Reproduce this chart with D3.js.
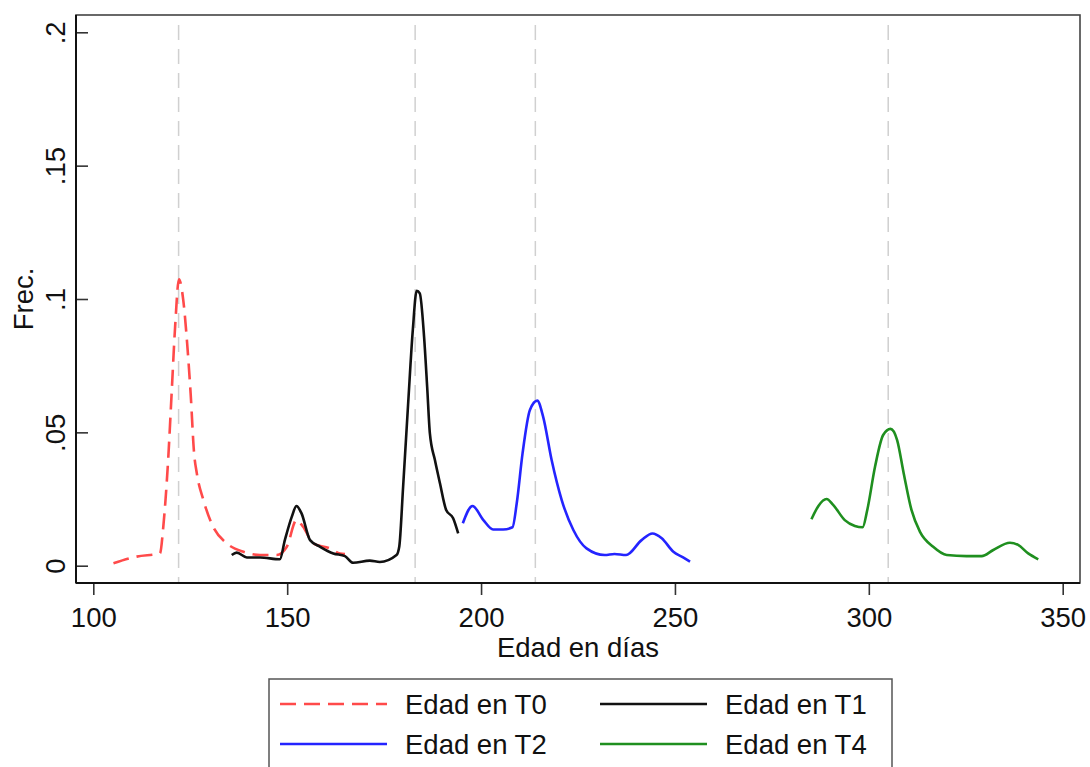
<!DOCTYPE html>
<meta charset="utf-8">
<style>
    body { margin: 0; background: #fff; }
    text { font-family: "Liberation Sans", Arial, sans-serif; fill: #111; }
    .curve { fill: none; stroke-width: 2.6px; stroke-linejoin: round; }
</style>
<body>
<script src="https://d3js.org/d3.v7.min.js"></script>
<script>
    // values: [day, frequency]
    var t0 = [[105.2,0.0009],[111.2,0.0034],[117.2,0.0046],[118.05,0.0146],[119.3,0.0396],[120.2,0.0646],
        [121.1,0.0896],[122.1,0.1074],[123.2,0.0996],[124.2,0.0834],[125.1,0.0646],[126.0,0.0421],
        [126.7,0.0346],[128.4,0.0246],[130.9,0.0146],[134.4,0.0084],[138.7,0.0052],[143.0,0.0040],
        [147.3,0.0040],[149.9,0.0071],[152.4,0.0171],[154.1,0.0146],[156.7,0.0084],[161.0,0.0065],
        [163.6,0.0046],[164.9,0.0044]];
    var t1 = [[135.7,0.0040],[137.0,0.0049],[139.6,0.0031],[143.0,0.0031],[148.1,0.0024],[149.4,0.0096],
        [151.2,0.0184],[152.4,0.0224],[153.7,0.0196],[155.9,0.0096],[158.5,0.0071],[161.9,0.0046],
        [164.9,0.0036],[167.0,0.0011],[171.3,0.0019],[173.9,0.0014],[178.2,0.0040],[178.9,0.0071],
        [179.9,0.0296],[181.2,0.0609],[182.4,0.0884],[183.4,0.1031],[184.2,0.1021],[185.3,0.0859],
        [186.1,0.0671],[186.8,0.0496],[188.1,0.0396],[189.4,0.0309],[191.0,0.0209],[192.8,0.0178],
        [194.1,0.0121]];
    var t2 = [[195.3,0.0159],[197.8,0.0224],[200.6,0.0171],[203.1,0.0136],[205.7,0.0136],[208.1,0.0144],
        [209.2,0.0234],[210.7,0.0421],[212.6,0.0584],[214.5,0.0619],[216.0,0.0559],[218.2,0.0396],
        [220.8,0.0246],[223.8,0.0134],[227.2,0.0065],[231.9,0.0040],[234.4,0.0044],[237.4,0.0040],
        [241.4,0.0096],[244.2,0.0121],[246.6,0.0103],[249.6,0.0052],[252.1,0.0031],[253.9,0.0015]];
    var t4 = [[285.2,0.0174],[287.0,0.0224],[289.1,0.0250],[290.8,0.0228],[293.8,0.0171],[296.4,0.0149],
        [298.4,0.0144],[299.6,0.0209],[301.6,0.0371],[303.7,0.0490],[305.6,0.0513],[307.3,0.0471],
        [309.0,0.0346],[311.0,0.0209],[313.2,0.0127],[316.6,0.0071],[320.1,0.0040],[325.2,0.0036],
        [329.1,0.0036],[332.1,0.0059],[336.4,0.0086],[338.5,0.0078],[341.1,0.0046],[343.7,0.0024]];
    var refDays = [122, 183, 214, 305];
    var xTicks = [100, 150, 200, 250, 300, 350];
    var yTicks = [0, 0.05, 0.1, 0.15, 0.2];
    var yTickLabels = ["0", ".05", ".1", ".15", ".2"];
    var seriesNames = ["Edad en T0", "Edad en T1", "Edad en T2", "Edad en T4"];

    var W = 1090, H = 767;
    var frame = { left: 76, right: 1080, top: 15, bottom: 583 };
    var fontSize = "27.5px";

    var x = d3.scaleLinear().domain([100, 350]).range([93.3, 1062.7]);
    var y = d3.scaleLinear().domain([0, 0.2]).range([565.7, 32.3]);

    var svg = d3.select("body").append("svg")
        .attr("width", W)
        .attr("height", H);

    // plot frame
    svg.append("rect")
        .attr("x", frame.left).attr("y", frame.top)
        .attr("width", frame.right - frame.left)
        .attr("height", frame.bottom - frame.top)
        .attr("fill", "none").attr("stroke", "#444").attr("stroke-width", 1.6);

    // reference lines
    svg.selectAll(".ref")
        .data(refDays)
        .enter().append("line")
        .attr("x1", function (d) { return x(d); })
        .attr("x2", function (d) { return x(d); })
        .attr("y1", 25).attr("y2", frame.bottom)
        .attr("stroke", "#d0d0d0").attr("stroke-width", 1.5)
        .attr("stroke-dasharray", "15,9");

    // curves
    var line = d3.line()
        .x(function (d) { return x(d[0]); })
        .y(function (d) { return y(d[1]); })
        .curve(d3.curveMonotoneX);

    var series = [
        { data: t0, color: "#ff4a4a", dash: "16,8" },
        { data: t1, color: "#111111", dash: null },
        { data: t2, color: "#2424ff", dash: null },
        { data: t4, color: "#1f8f1f", dash: null }
    ];

    series.forEach(function (s) {
        svg.append("path")
            .datum(s.data)
            .attr("class", "curve")
            .attr("d", line)
            .style("stroke", s.color)
            .style("stroke-dasharray", s.dash);
    });

    // x axis
    var xAxis = svg.append("g")
        .attr("transform", "translate(0," + frame.bottom + ")")
        .call(d3.axisBottom(x).tickValues(xTicks).tickSize(12).tickPadding(12).tickFormat(d3.format("d")));
    xAxis.select(".domain").remove();
    xAxis.selectAll("line").attr("stroke", "#333").attr("stroke-width", 1.6);
    xAxis.selectAll("text").style("font-size", fontSize).attr("fill", "#111");
    svg.append("line")
        .attr("x1", frame.left).attr("x2", frame.right)
        .attr("y1", frame.bottom).attr("y2", frame.bottom)
        .attr("stroke", "#111").attr("stroke-width", 2);

    // y axis (ticks point into the plot)
    var yAxis = svg.append("g")
        .attr("transform", "translate(" + frame.left + ",0)")
        .call(d3.axisRight(y).tickValues(yTicks).tickSize(12)
            .tickFormat(function (d, i) { return yTickLabels[i]; }));
    yAxis.select(".domain").remove();
    yAxis.selectAll("line").attr("stroke", "#333").attr("stroke-width", 1.6);
    yAxis.selectAll("text")
        .attr("x", 0).attr("dy", null)
        .attr("transform", "translate(-11,0) rotate(-90)")
        .attr("text-anchor", "middle")
        .attr("fill", "#111")
        .style("font-size", fontSize);
    svg.append("line")
        .attr("x1", frame.left).attr("x2", frame.left)
        .attr("y1", frame.top).attr("y2", frame.bottom)
        .attr("stroke", "#111").attr("stroke-width", 2);

    // axis titles
    svg.append("text")
        .attr("x", (frame.left + frame.right) / 2).attr("y", 657)
        .attr("text-anchor", "middle")
        .style("font-size", fontSize)
        .text("Edad en días");
    svg.append("text")
        .attr("transform", "translate(33," + (frame.top + frame.bottom) / 2 + ") rotate(-90)")
        .attr("text-anchor", "middle")
        .style("font-size", fontSize)
        .text("Frec.");

    // legend
    var legend = svg.append("g");
    legend.append("rect")
        .attr("x", 269).attr("y", 679)
        .attr("width", 623).attr("height", 100)
        .attr("fill", "#fff").attr("stroke", "#555").attr("stroke-width", 1.5);

    var legendPos = [[280, 704], [600, 704], [280, 744], [600, 744]];
    var items = legend.selectAll(".item")
        .data(series)
        .enter().append("g")
        .attr("transform", function (d, i) { return "translate(" + legendPos[i][0] + "," + legendPos[i][1] + ")"; });
    items.append("line")
        .attr("x1", 0).attr("x2", 107)
        .attr("stroke", function (d) { return d.color; })
        .attr("stroke-width", 2.6)
        .attr("stroke-dasharray", function (d) { return d.dash; });
    items.append("text")
        .attr("x", 125).attr("y", 0).attr("dy", "0.36em")
        .style("font-size", fontSize)
        .text(function (d, i) { return seriesNames[i]; });
</script>
</body>
